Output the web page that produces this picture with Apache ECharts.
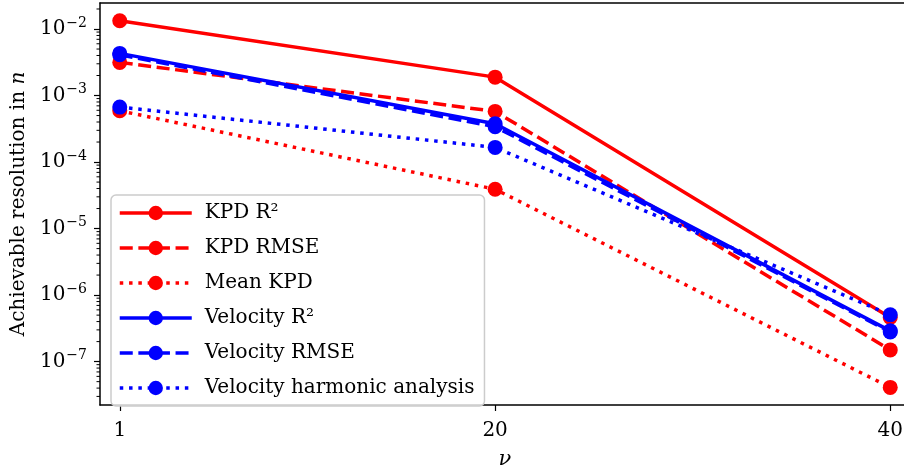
<!DOCTYPE html>
<html>
<head>
<meta charset="utf-8">
<title></title>
<script src="https://cdn.jsdelivr.net/npm/echarts@6/dist/echarts.min.js"></script>
</head>
<body style="margin:0;background:#fff">
<div id="main" style="width:904px;height:469px;"></div>
<script type="text/javascript">
// nu values on x, achievable resolution on log y
var nu = [1, 20, 40];
var kpdR2 = [1.33e-2, 1.89e-3, 4.6e-7];
var kpdRmse = [3.15e-3, 5.77e-4, 1.5e-7];
var meanKpd = [5.9e-4, 3.9e-5, 4.1e-8];
var velR2 = [4.3e-3, 3.77e-4, 2.9e-7];
var velRmse = [4.1e-3, 3.4e-4, 2.8e-7];
var velHarm = [6.7e-4, 1.66e-4, 5.06e-7];

var yTicks = [1e-7, 1e-6, 1e-5, 1e-4, 1e-3, 1e-2];
var xTicks = [1, 20, 40];

var yMin = Math.pow(10, -7.652);
var yMax = Math.pow(10, -1.609);

// minor ticks 2..9 x 10^k inside the range
var yMinor = [];
for (var k = -8; k <= -2; k++) {
    for (var m = 2; m <= 9; m++) {
        var v = m * Math.pow(10, k);
        if (v > yMin && v < yMax) yMinor.push(v);
    }
}

var font = 'DejaVu Serif';
var RED = '#ff0000', BLUE = '#0000ff';

function pairs(ys) {
    return nu.map(function (x, i) { return [x, ys[i]]; });
}

function line(name, ys, color, type) {
    return {
        name: name,
        type: 'line',
        data: pairs(ys),
        symbol: 'circle',
        symbolSize: 15,
        showSymbol: true,
        itemStyle: { color: color },
        lineStyle: { color: color, width: 3.5, type: type, cap: 'butt' },
        emphasis: { disabled: true }
    };
}

var dashed = [13, 5.6];
var dotted = [3.5, 5.8];

var myChart = echarts.init(document.getElementById('main'), null, { renderer: 'canvas' });

myChart.setOption({
    animation: false,
    backgroundColor: '#fff',
    grid: {
        left: 100, top: 3, width: 810, bottom: 64,
        outerBoundsMode: 'none',
        show: false,
        containLabel: false
    },
    legend: {
        orient: 'vertical',
        left: 111, top: 195,
        padding: [8, 10, 8, 7],
        itemWidth: 72, itemHeight: 18,
        itemGap: 15,
        backgroundColor: 'rgba(255,255,255,0.8)',
        borderColor: '#cccccc', borderWidth: 1.5, borderRadius: 5,
        lineStyle: { width: 3.5 },
        textStyle: { fontFamily: font, fontSize: 20, color: '#000', padding: [0, 0, 0, 8] },
        data: ['KPD R²', 'KPD RMSE', 'Mean KPD', 'Velocity R²', 'Velocity RMSE', 'Velocity harmonic analysis']
    },
    xAxis: [{
        type: 'value',
        position: 'bottom',
        min: 0,
        max: 41,
        name: '{i|ν}',
        nameLocation: 'middle',
        nameGap: 44,
        nameTextStyle: { rich: { i: { fontFamily: font, fontStyle: 'italic', fontSize: 21, color: '#000' } } },
        splitLine: { show: false },
        axisLine: { show: true, onZero: false, lineStyle: { color: '#000', width: 1.5 } },
        axisTick: { show: true, length: 6, customValues: xTicks, lineStyle: { color: '#000', width: 1.2 } },
        axisLabel: { customValues: xTicks, margin: 16, fontFamily: font, fontSize: 20, color: '#000' }
    }, {
        // top spine only
        type: 'value',
        position: 'top',
        min: 0,
        max: 41,
        splitLine: { show: false },
        axisLine: { show: true, onZero: false, lineStyle: { color: '#000', width: 1.5 } },
        axisTick: { show: false },
        axisLabel: { show: false }
    }],
    yAxis: {
        type: 'log',
        logBase: 10,
        min: yMin,
        max: yMax,
        position: 'left',
        name: 'Achievable resolution in {i|n}',
        nameLocation: 'middle',
        nameGap: 70,
        nameRotate: 90,
        nameTextStyle: {
            fontFamily: font, fontSize: 20, color: '#000',
            rich: { i: { fontFamily: font, fontStyle: 'italic', fontSize: 20, color: '#000' } }
        },
        splitLine: { show: false },
        axisLine: { show: true, onZero: false, lineStyle: { color: '#000', width: 1.5 } },
        axisTick: { show: true, length: 6, customValues: yTicks, lineStyle: { color: '#000', width: 1.2 } },
        axisLabel: {
            customValues: yTicks,
            margin: 13,
            formatter: function (v) {
                var e = Math.round(Math.log10(v));
                return '{b|10}{s|\u2212' + Math.abs(e) + '}';
            },
            rich: {
                b: { fontFamily: font, fontSize: 20, color: '#000' },
                s: { fontFamily: font, fontSize: 14, color: '#000', padding: [0, 0, 12, 1] }
            }
        }
    },
    series: [
        line('KPD R²', kpdR2, RED, 'solid'),
        line('KPD RMSE', kpdRmse, RED, dashed),
        line('Mean KPD', meanKpd, RED, dotted),
        line('Velocity R²', velR2, BLUE, 'solid'),
        line('Velocity RMSE', velRmse, BLUE, dashed),
        line('Velocity harmonic analysis', velHarm, BLUE, dotted),
        {
            // minor log ticks on the left spine
            type: 'custom',
            silent: true,
            clip: false,
            data: yMinor.map(function (v) { return [0, v]; }),
            renderItem: function (params, api) {
                var p = api.coord([api.value(0), api.value(1)]);
                return {
                    type: 'line',
                    shape: { x1: p[0] - 3.5, y1: p[1], x2: p[0], y2: p[1] },
                    style: { stroke: '#000', lineWidth: 1 }
                };
            }
        }
    ]
});
</script>
</body>
</html>
